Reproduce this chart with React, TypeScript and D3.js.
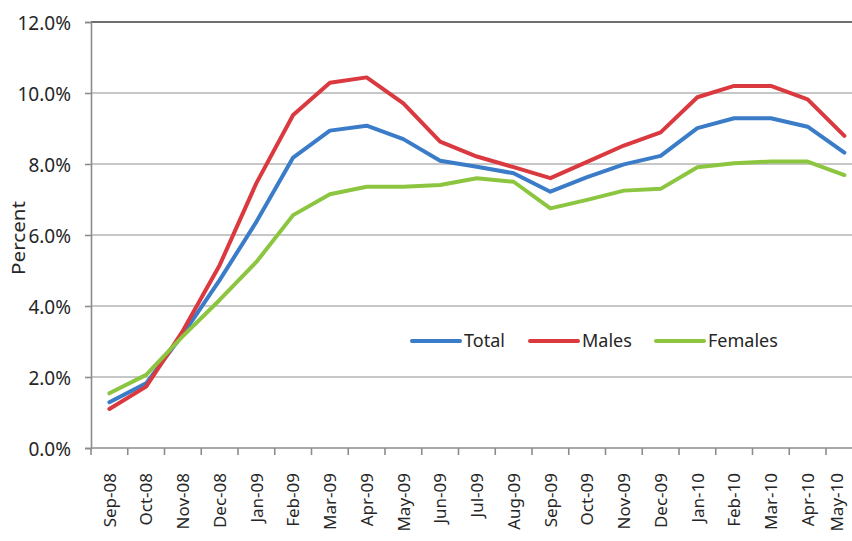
import { useEffect, useRef } from "react"
import * as d3 from "d3"

// Monthly categories, Sep-08 .. May-10
const months = [
  "Sep-08", "Oct-08", "Nov-08", "Dec-08", "Jan-09", "Feb-09", "Mar-09",
  "Apr-09", "May-09", "Jun-09", "Jul-09", "Aug-09", "Sep-09", "Oct-09",
  "Nov-09", "Dec-09", "Jan-10", "Feb-10", "Mar-10", "Apr-10", "May-10",
]

const total = [
  1.29, 1.82, 3.2, 4.73, 6.37, 8.18, 8.94, 9.08, 8.7, 8.09, 7.92, 7.74,
  7.22, 7.63, 7.99, 8.23, 9.01, 9.29, 9.29, 9.05, 8.32,
]
const males = [
  1.1, 1.73, 3.3, 5.15, 7.46, 9.38, 10.29, 10.44, 9.71, 8.63, 8.21, 7.91,
  7.6, 8.06, 8.52, 8.89, 9.88, 10.2, 10.2, 9.82, 8.79,
]
const females = [
  1.54, 2.06, 3.15, 4.17, 5.24, 6.56, 7.15, 7.36, 7.36, 7.41, 7.6, 7.5,
  6.75, 6.99, 7.25, 7.3, 7.91, 8.02, 8.07, 8.07, 7.69,
]

const yTicks = [0, 2, 4, 6, 8, 10, 12]

const seriesNames = ["Total", "Males", "Females"]
const seriesColors = ["#3b7cc9", "#d9393f", "#8cc540"]

export default function App() {
  const svgRef = useRef<SVGSVGElement>(null)

  useEffect(() => {
    document.body.style.margin = "0"
    const svg = d3.select(svgRef.current)
    svg.selectAll("*").remove()

    const width = 852
    const height = 541
    const margin = { top: 22, left: 91 }
    const bandW = 36.75
    const innerWidth = bandW * months.length
    const innerHeight = 426
    const font = "'Noto Sans', 'Open Sans', sans-serif"
    const axisColor = "#8c8c8c"
    const textColor = "#262626"

    svg.attr("width", width).attr("height", height)

    const x = d3.scaleBand().domain(months).range([0, innerWidth])
    const y = d3.scaleLinear().domain([0, 12]).range([innerHeight, 0])

    const g = svg.append("g").attr("transform", `translate(${margin.left},${margin.top})`)

    // horizontal gridlines
    g.append("g")
      .selectAll("line")
      .data(yTicks.filter(t => t > 0))
      .enter()
      .append("line")
      .attr("x1", 0)
      .attr("x2", innerWidth)
      .attr("y1", d => y(d))
      .attr("y2", d => y(d))
      .attr("stroke", d => (d === 12 ? "#6e6e6e" : "#b4b4b4"))
      .attr("stroke-width", d => (d === 12 ? 2 : 1.6))

    // y axis
    const yAxis = g.append("g")
      .call(d3.axisLeft(y).tickValues(yTicks).tickSize(6).tickPadding(14).tickFormat(d => `${(+d).toFixed(1)}%`))
    yAxis.select(".domain").attr("stroke", axisColor).attr("stroke-width", 1.6)
    yAxis.selectAll(".tick line").attr("stroke", axisColor).attr("stroke-width", 1.6)
    yAxis.selectAll(".tick text")
      .attr("fill", textColor)
      .style("font-family", font)
      .style("font-size", "19px")
      .attr("dy", "0.42em")

    // x axis with ticks between categories
    const xAxis = g.append("g").attr("transform", `translate(0,${innerHeight})`)
    xAxis.append("line")
      .attr("x1", 0)
      .attr("x2", innerWidth)
      .attr("stroke", axisColor)
      .attr("stroke-width", 1.6)
    xAxis.selectAll(".xtick")
      .data(months)
      .enter()
      .append("line")
      .attr("class", "xtick")
      .attr("x1", d => x(d)!)
      .attr("x2", d => x(d)!)
      .attr("y1", 0)
      .attr("y2", 7)
      .attr("stroke", axisColor)
      .attr("stroke-width", 1.6)
    // last label sits at the page edge, keep it just inside
    const maxLabelX = width - margin.left - 15
    xAxis.selectAll(".xlabel")
      .data(months)
      .enter()
      .append("text")
      .attr("class", "xlabel")
      .attr("transform", d => `translate(${Math.min(x(d)! + x.bandwidth() / 2, maxLabelX)},${25}) rotate(-90)`)
      .attr("text-anchor", "end")
      .attr("dy", "0.36em")
      .attr("fill", textColor)
      .style("font-family", font)
      .style("font-size", "17px")
      .text(d => d)

    // axis title
    svg.append("text")
      .attr("transform", `translate(19,238) rotate(-90)`)
      .attr("text-anchor", "middle")
      .attr("dy", "0.35em")
      .attr("fill", textColor)
      .attr("textLength", 74)
      .attr("lengthAdjust", "spacingAndGlyphs")
      .style("font-family", font)
      .style("font-size", "18px")
      .text("Percent")

    // lines
    const line = d3.line<number>()
      .x((_, i) => x(months[i])! + x.bandwidth() / 2)
      .y(d => y(d))

    const seriesData = [total, males, females]
    seriesData.forEach((vals, i) => {
      g.append("path")
        .datum(vals)
        .attr("fill", "none")
        .attr("stroke", seriesColors[i])
        .attr("stroke-width", 4)
        .attr("stroke-linejoin", "round")
        .attr("stroke-linecap", "round")
        .attr("d", line)
    })

    // legend
    const legendX = [412, 530, 656]
    const legend = svg.append("g").attr("transform", "translate(0,341)")
    seriesNames.forEach((name, i) => {
      legend.append("line")
        .attr("x1", legendX[i])
        .attr("x2", legendX[i] + 48)
        .attr("stroke", seriesColors[i])
        .attr("stroke-width", 4)
        .attr("stroke-linecap", "round")
      legend.append("text")
        .attr("x", legendX[i] + 52)
        .attr("dy", "0.36em")
        .attr("fill", textColor)
        .style("font-family", font)
        .style("font-size", "18px")
        .text(name)
    })
  }, [])

  return (
    <svg
      ref={svgRef}
      width={852}
      height={541}
      style={{ position: "absolute", left: 0, top: 0, background: "#fff" }}
    />
  )
}
